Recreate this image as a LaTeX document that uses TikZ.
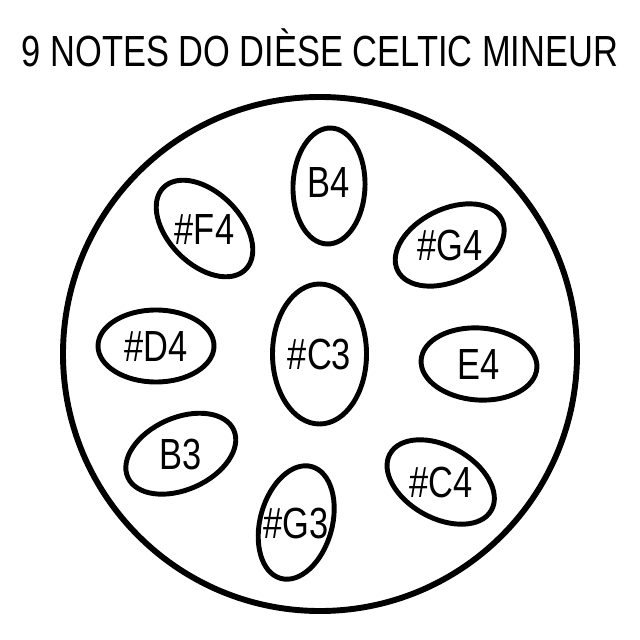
\documentclass[tikz,border=0pt]{standalone}
\usepackage{fontspec}
\setmainfont[FakeStretch=0.79]{Liberation Sans}
\usetikzlibrary{shapes.geometric}

\begin{document}
\begin{tikzpicture}[x=0.25mm, y=-0.25mm,
  pan/.style={circle, draw, line width=4.2pt, minimum size=128.5mm, inner sep=0pt},
  note/.style={ellipse, draw, line width=3.5pt, minimum width=29mm, minimum height=18mm, inner sep=0pt},
  notename/.style={font=\fontsize{31}{31}\selectfont, inner sep=0pt, text height=22.3pt, text depth=0pt}]

\useasboundingbox (0,0) rectangle (640,640);

%Title
\node (T) at (320,66.7) [anchor=base, inner sep=0pt, font=\fontsize{31}{31}\selectfont] {9 NOTES DO DIÈSE CELTIC MINEUR};

%Pan
\node (P) at (320,354) [pan] {};

%Notes
\node (C3) at (319.5,354) [note, minimum width=23.5mm, minimum height=35mm] {};
\node (B4) at (329,186) [note, rotate=88] {};
\node (F4) at (204.5,228.5) [note, rotate=-45] {};
\node (G4) at (449.7,245) [note, rotate=26] {};
\node (D4) at (156,346) [note] {};
\node (E4) at (479,364) [note, rotate=-4] {};
\node (B3) at (180.8,453.7) [note, rotate=24] {};
\node (C4) at (440.7,482) [note, rotate=-29] {};
\node (G3) at (296.2,522.5) [note, rotate=74.5] {};

%Names
\node (C3n) at (C3) [notename] {\#C3};
\node (B4n) at (329,182) [notename] {B4};
\node (F4n) at (F4) [notename] {\#F4};
\node (G4n) at (G4) [notename] {\#G4};
\node (D4n) at (D4) [notename] {\#D4};
\node (E4n) at (E4) [notename] {E4};
\node (B3n) at (B3) [notename] {B3};
\node (C4n) at (C4) [notename] {\#C4};
\node (G3n) at (G3) [notename] {\#G3};

\end{tikzpicture}
\end{document}
